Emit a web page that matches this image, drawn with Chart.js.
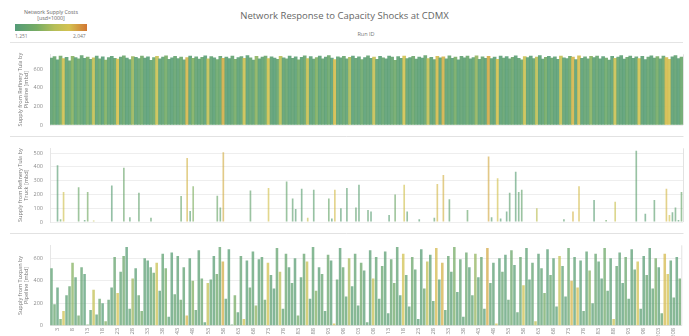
<!DOCTYPE html>
<html><head><meta charset="utf-8">
<script src="https://cdn.jsdelivr.net/npm/chart.js@4/dist/chart.umd.min.js"></script>
<style>
body{margin:0;background:#fff;width:689px;height:336px;overflow:hidden;position:relative;font-family:"Open Sans",sans-serif;}
.abs{position:absolute;}
#title{left:0;width:689px;top:9px;text-align:center;font-size:9.5px;color:#666;}
#runid{left:346px;width:40px;top:30px;text-align:center;font-size:5.5px;color:#777;}
#lgTitle{left:10px;width:82px;top:9px;text-align:center;font-size:5.3px;color:#666;line-height:6px;}
#lgBar{left:15px;top:24px;width:72px;height:7px;}
#lgMin{left:15px;top:33px;font-size:5px;color:#777;}
#lgMax{left:73px;top:33px;font-size:5px;color:#777;}
#topline{left:10px;top:42px;width:673px;height:1px;background:#e4e4e4;}
canvas{position:absolute;left:0;}
</style></head><body>
<div id="title" class="abs">Network Response to Capacity Shocks at CDMX</div>
<div id="runid" class="abs">Run ID</div>
<div id="lgTitle" class="abs">Network Supply Costs<br>[usd×1000]</div>
<div id="lgBar" class="abs"></div>
<div id="lgMin" class="abs">1,251</div>
<div id="lgMax" class="abs">2,047</div>
<div id="topline" class="abs"></div>
<canvas id="c1" width="689" height="93" style="top:44px"></canvas>
<canvas id="c2" width="689" height="96" style="top:138px"></canvas>
<canvas id="c3" width="689" height="101" style="top:235px"></canvas>
<script>
const runIds = [1,2,3,4,5,6,7,8,9,10,11,12,13,14,15,16,17,18,19,20,21,22,23,24,25,26,27,28,29,30,31,32,33,34,35,36,37,38,39,40,41,42,43,44,45,46,47,48,49,50,51,52,53,54,55,56,57,58,59,60,61,62,63,64,65,66,67,68,69,70,71,72,73,74,75,76,77,78,79,80,81,82,83,84,85,86,87,88,89,90,91,92,93,94,95,96,97,98,99,100,101,102,103,104,105,106,107,108,109,110,111,112,113,114,115,116,117,118,119,120,121,122,123,124,125,126,127,128,129,130,131,132,133,134,135,136,137,138,139,140,141,142,143,144,145,146,147,148,149,150,151,152,153,154,155,156,157,158,159,160,161,162,163,164,165,166,167,168,169,170,171,172,173,174,175,176,177,178,179,180,181,182,183,184,185,186,187,188,189,190,191,192,193,194,195,196,197,198,199,200,201,202,203,204,205,206,207,208,209,210];

// y tick labels of each panel
const ticksTulaPipeline = [0,200,400,600];
const ticksTulaTruck = [0,100,200,300,400,500];
const ticksTuxpanPipeline = [0,200,400,600];

// Network supply cost per run [usd x 1000]
const supplyCost = [
1320,1380,1290,1450,1820,1310,1360,1540,1300,1420,
1350,1290,1480,1330,1760,1310,1400,1280,1520,1340,
1300,1370,1850,1320,1410,1290,1330,1600,1300,1360,
1440,1310,1280,1350,1390,1790,1300,1330,1470,1320,
1290,1360,1310,1400,1330,1880,1300,1520,1340,1310,
1380,1290,1750,1330,1300,1420,1360,1900,1310,1280,
1350,1480,1300,1340,1810,1290,1370,1320,1560,1300,
1330,1400,1840,1310,1290,1360,1700,1320,1380,1300,
1340,1300,1450,1310,1370,1780,1290,1330,1520,1300,
1360,1310,1400,1290,1860,1330,1300,1380,1320,1650,
1290,1350,1310,1420,1300,1340,1300,1770,1330,1290,
1380,1310,1300,1360,1440,1320,1290,1830,1340,1300,
1410,1330,1300,1290,1370,1740,1310,1350,1870,1300,
1890,1320,1360,1300,1480,1290,1340,1310,1400,1300,
1330,1580,1300,1370,1290,1910,1320,1310,1850,1300,
1360,1290,1340,1410,1300,1330,1370,1800,1310,1290,
1350,1720,1300,1320,1460,1290,1380,1310,1300,1760,
1340,1300,1390,1880,1310,1860,1290,1350,1320,1540,
1300,1370,1310,1290,1430,1330,1300,1790,1350,1310,
1290,1400,1320,1300,1340,1830,1310,1290,1360,1300,
1330,1480,1300,1370,1870,1850,1310,1340,1290,1400];

// Supply from Refinery Tula by Pipeline [mbd]
const tulaPipeline = [
720,735,700,742,715,728,690,738,725,710,
745,718,730,705,722,740,712,733,698,726,
739,716,708,731,744,720,702,736,727,713,
741,719,734,695,724,737,711,729,743,706,
721,738,715,730,700,725,742,717,733,709,
728,744,712,736,721,703,739,718,731,714,
740,707,726,735,716,745,722,699,737,711,
729,742,714,733,720,706,738,723,711,741,
718,732,701,727,743,715,736,709,724,740,
712,730,745,719,704,734,722,739,710,728,
741,716,733,702,726,744,718,731,707,737,
723,711,740,729,696,735,717,742,713,725,
738,708,731,720,745,714,727,703,739,721,
734,710,743,716,729,700,737,722,741,712,
726,744,707,733,718,739,715,730,705,742,
720,735,711,728,743,717,701,736,724,740,
713,731,745,708,727,738,719,734,706,741,
722,715,739,729,703,744,717,732,710,737,
725,742,712,736,720,699,739,716,731,745,
708,727,741,718,734,713,738,704,729,743,
719,736,711,740,724,707,733,745,715,730];

// Supply from Refinery Tula by Truck [mbd]
const tulaTruck = [
0,0,412,20,218,0,0,0,0,253,
0,15,218,0,10,0,0,0,0,0,
265,0,0,0,394,0,35,0,0,212,
0,0,0,30,0,0,0,0,0,0,
0,0,0,188,0,465,80,259,0,0,
0,0,0,0,0,190,106,506,0,0,
0,0,0,0,0,0,229,0,0,0,
0,0,247,0,0,0,0,0,294,0,
171,94,0,241,0,30,0,235,0,0,
0,0,171,25,235,0,100,0,247,0,
0,106,271,0,0,88,76,0,0,0,
0,0,50,0,200,0,0,271,76,0,
0,0,20,0,0,0,0,30,276,0,
341,0,165,0,0,0,0,0,88,0,
0,0,0,0,0,476,35,0,318,25,
0,76,212,0,365,218,235,0,0,0,
0,100,0,0,0,0,0,0,0,0,
20,0,0,76,0,259,0,0,0,0,
159,0,0,0,15,0,0,147,0,0,
0,0,0,0,518,0,0,59,0,0,
159,0,0,0,241,50,70,106,15,218];

// Supply from Tuxpan by Pipeline [mbd]
const tuxpanPipeline = [
510,190,340,60,130,270,350,560,430,90,
520,460,10,140,320,100,240,200,40,230,
340,610,290,480,620,700,150,420,510,270,
130,600,580,520,470,560,310,640,510,80,
650,280,620,230,520,90,600,400,140,670,
420,30,380,410,620,460,700,570,240,680,
10,270,120,620,60,580,340,660,180,590,
610,230,560,450,330,690,480,150,640,520,
380,600,90,430,640,570,240,700,310,520,
460,130,630,580,20,410,690,520,260,600,
350,640,180,560,490,30,670,420,610,240,
530,660,110,590,380,700,270,640,450,170,
610,500,60,680,330,570,630,220,690,410,
560,140,620,480,700,300,590,80,650,520,
270,640,430,610,150,690,380,560,20,600,
480,630,230,670,540,120,610,360,690,410,
560,40,640,510,290,680,450,600,170,620,
530,260,690,400,610,340,580,130,660,490,
200,640,570,420,690,310,600,60,530,650,
380,610,240,680,500,570,150,620,450,690,
330,600,520,110,640,460,580,250,610,420];

const costMin = 1251, costMax = 2047;
const stops = [[0,[84,155,120]],[0.3,[118,172,100]],[0.55,[182,190,88]],[0.75,[212,194,80]],[1,[210,118,50]]];
document.getElementById('lgBar').style.background = 'linear-gradient(to right,' +
  stops.map(s => 'rgb(' + s[1].join(',') + ') ' + (s[0]*100) + '%').join(',') + ')';

function costColor(c, a){
  let t = Math.max(0, Math.min(1, (c - costMin) / (costMax - costMin)));
  for (let i = 1; i < stops.length; i++){
    if (t <= stops[i][0]){
      const [t0,c0] = stops[i-1], [t1,c1] = stops[i];
      const f = (t - t0) / (t1 - t0);
      const rgb = c0.map((v,k) => Math.round(v + (c1[k]-v)*f));
      return 'rgba(' + rgb.join(',') + ',' + a + ')';
    }
  }
  return 'rgba(' + stops[stops.length-1][1].join(',') + ',' + a + ')';
}

const frame = {
  id: 'frame',
  afterDraw(chart){
    const ctx = chart.ctx, a = chart.chartArea;
    ctx.save();
    ctx.strokeStyle = '#e2e2e2'; ctx.lineWidth = 1;
    ctx.beginPath();
    ctx.moveTo(a.right + 0.5, a.top); ctx.lineTo(a.right + 0.5, a.bottom);
    if (chart.options.plugins.frame.sep){
      ctx.moveTo(10, chart.height - 0.5); ctx.lineTo(a.right + 0.5, chart.height - 0.5);
    }
    ctx.stroke();
    ctx.restore();
  }
};
Chart.register(frame);

function makeChart(id, values, tickVals, title, maxV, alpha, barPct, pad, showX){
  return new Chart(document.getElementById(id), {
    type: 'bar',
    data: { labels: runIds, datasets: [{
      data: values,
      backgroundColor: supplyCost.map(c => costColor(c, alpha)),
      borderWidth: 0,
      barPercentage: barPct,
      categoryPercentage: 1
    }]},
    options: {
      responsive: false, animation: false,
      layout: { padding: pad },
      plugins: { legend: {display:false}, tooltip: {enabled:false}, frame: {sep: !showX} },
      scales: {
        x: {
          display: showX,
          grid: { display: false, drawTicks: false, tickLength: 0 },
          border: { color: '#e2e2e2' },
          ticks: {
            autoSkip: false, maxRotation: 90, minRotation: 90, padding: 2,
            font: { size: 6, family: 'Open Sans' }, color: '#8a8a8a',
            callback: function(v, i){ return i % 5 === 2 ? this.getLabelForValue(v) : ''; }
          },
          afterFit(s){ s.height = 10; }
        },
        y: {
          min: 0, max: maxV,
          afterBuildTicks(s){ s.ticks = tickVals.map(v => ({value: v})); },
          grid: { color: '#eeeeee', drawTicks: false },
          border: { display: true, color: '#e6e6e6' },
          ticks: { padding: 7, font: { size: 5.5, family: 'Open Sans' }, color: '#8a8a8a' },
          title: { display: true, text: title, color: '#777', padding: {top: 17, bottom: 0},
                   font: { size: 5.5, family: 'Open Sans', lineHeight: 1.1 } },
          afterFit(s){ s.width = 50; }
        }
      }
    }
  });
}

makeChart('c1', tulaPipeline, ticksTulaPipeline, ['Supply from Refinery Tula by','Pipeline [mbd]'], 760, 0.9, 1, {top:0,bottom:2,right:6,left:0}, false);
makeChart('c2', tulaTruck, ticksTulaTruck, ['Supply from Refinery Tula by','Truck [mbd]'], 535, 0.65, 0.55, {top:1,bottom:2,right:6,left:0}, false);
makeChart('c3', tuxpanPipeline, ticksTuxpanPipeline, ['Supply from Tuxpan by','Pipeline [mbd]'], 715, 0.75, 0.85, {top:2,bottom:0,right:6,left:0}, true);
</script>
</body></html>
